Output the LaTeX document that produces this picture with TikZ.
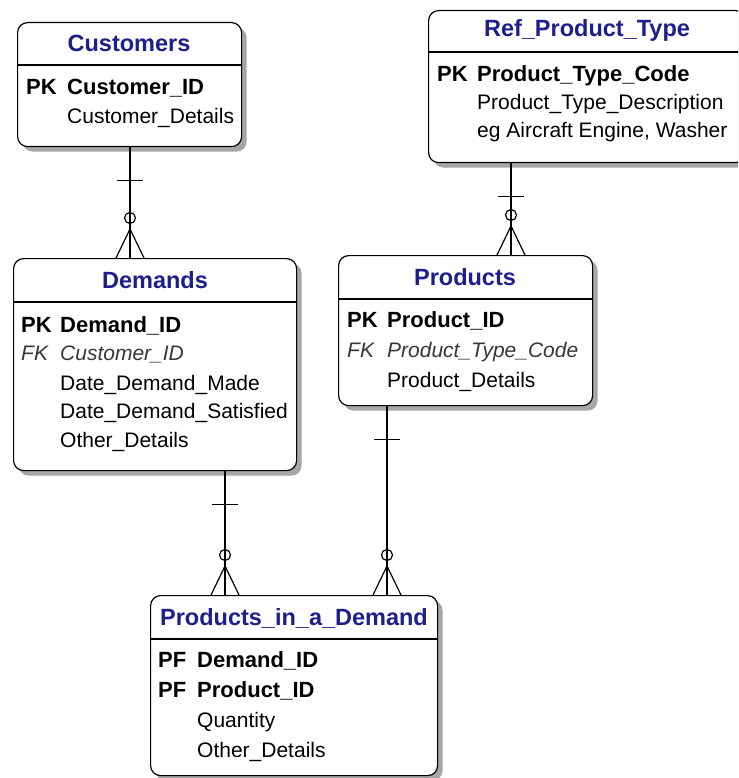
\documentclass[tikz,border=0pt]{standalone}
\usepackage{fontspec}
\setmainfont{Liberation Sans}
\usetikzlibrary{positioning,calc,shadows}
\definecolor{titleblue}{RGB}{30,30,140}
\definecolor{fkgray}{RGB}{55,55,55}

\begin{document}
\begin{tikzpicture}
	[x=1pt,y=-1pt,
	entity/.style={draw=black,line width=1.2pt,rounded corners=10pt,fill=white,anchor=north west,inner sep=0pt,
		drop shadow={shadow xshift=5pt,shadow yshift=-5pt,fill=black!50,opacity=.7}},
	title/.style={anchor=base,inner sep=0pt,text=titleblue,font=\fontsize{23.5}{28}\selectfont\bfseries},
	pk/.style={anchor=base west,inner sep=0pt,font=\fontsize{22}{26}\selectfont\bfseries},
	fk/.style={anchor=base west,inner sep=0pt,text=fkgray,font=\fontsize{21}{25}\selectfont\itshape},
	attr/.style={anchor=base west,inner sep=0pt,font=\fontsize{21}{25}\selectfont},
	rel/.style={draw=black,line width=1.2pt}]
	\useasboundingbox (0,0) rectangle (738,778);
	\clip (0,0) rectangle (738,778);
	
	% Customers
	\node[entity,minimum width=224pt,minimum height=124pt] (cust) at (17,22) {};
	\draw[rel] (cust.west |- 0,65) -- (cust.east |- 0,65);
	\node[title] (custT) at (129,52) {Customers};
	\node[pk] (custK1) at (26,95) {PK};
	\node[pk] (custF1) at (67,95) {Customer\_ID};
	\node[attr] (custF2) at (67,124) {Customer\_Details};
	
	% Ref_Product_Type
	\node[entity,minimum width=317pt,minimum height=152pt] (ref) at (428,10) {};
	\draw[rel] (ref.west |- 0,52) -- (ref.east |- 0,52);
	\node[title] (refT) at (587,37) {Ref\_Product\_Type};
	\node[pk] (refK1) at (437,82) {PK};
	\node[pk] (refF1) at (477,82) {Product\_Type\_Code};
	\node[attr] (refF2) at (477,110) {Product\_Type\_Description};
	\node[attr] (refF3) at (477,138) {eg Aircraft Engine, Washer};
	
	% Demands
	\node[entity,minimum width=283pt,minimum height=212pt] (dem) at (13,258) {};
	\draw[rel] (dem.west |- 0,302) -- (dem.east |- 0,302);
	\node[title] (demT) at (155,288) {Demands};
	\node[pk] (demK1) at (21,332) {PK};
	\node[fk] (demK2) at (21,360) {FK};
	\node[pk] (demF1) at (60,332) {Demand\_ID};
	\node[fk] (demF2) at (60,360) {Customer\_ID};
	\node[attr] (demF3) at (60,390) {Date\_Demand\_Made};
	\node[attr] (demF4) at (60,418) {Date\_Demand\_Satisfied};
	\node[attr] (demF5) at (60,447) {Other\_Details};
	
	% Products
	\node[entity,minimum width=254pt,minimum height=150pt] (prod) at (338,255) {};
	\draw[rel] (prod.west |- 0,299) -- (prod.east |- 0,299);
	\node[title] (prodT) at (465,285) {Products};
	\node[pk] (prodK1) at (347,327) {PK};
	\node[fk] (prodK2) at (347,357) {FK};
	\node[pk] (prodF1) at (387,327) {Product\_ID};
	\node[fk] (prodF2) at (387,357) {Product\_Type\_Code};
	\node[attr] (prodF3) at (387,387) {Product\_Details};
	
	% Products_in_a_Demand
	\node[entity,minimum width=287pt,minimum height=180pt] (pid) at (150,595) {};
	\draw[rel] (pid.west |- 0,639) -- (pid.east |- 0,639);
	\node[title] (pidT) at (294,625) {Products\_in\_a\_Demand};
	\node[pk] (pidK1) at (158,667) {PF};
	\node[pk] (pidK2) at (158,697) {PF};
	\node[pk] (pidF1) at (197,667) {Demand\_ID};
	\node[pk] (pidF2) at (197,697) {Product\_ID};
	\node[attr] (pidF3) at (197,727) {Quantity};
	\node[attr] (pidF4) at (197,757) {Other\_Details};
	
	% one to zero-or-many
	\foreach \from/\to/\xx in {cust/dem/130,ref/prod/511,dem/pid/225,prod/pid/387} {
		\coordinate (xx) at (\xx,0);
		\draw[rel] (\from.south -| xx) coordinate (s) -- (\to.north -| xx) coordinate (e);
		\draw[rel] ($(s)+(-13,33)$) -- ($(s)+(13,33)$);
		\draw[rel] ($(e)+(0,-40)$) circle (5.5);
		\draw[rel] ($(e)+(-14,0)$) -- ($(e)+(0,-29)$) -- ($(e)+(14,0)$);
	}
	
\end{tikzpicture}
\end{document}
